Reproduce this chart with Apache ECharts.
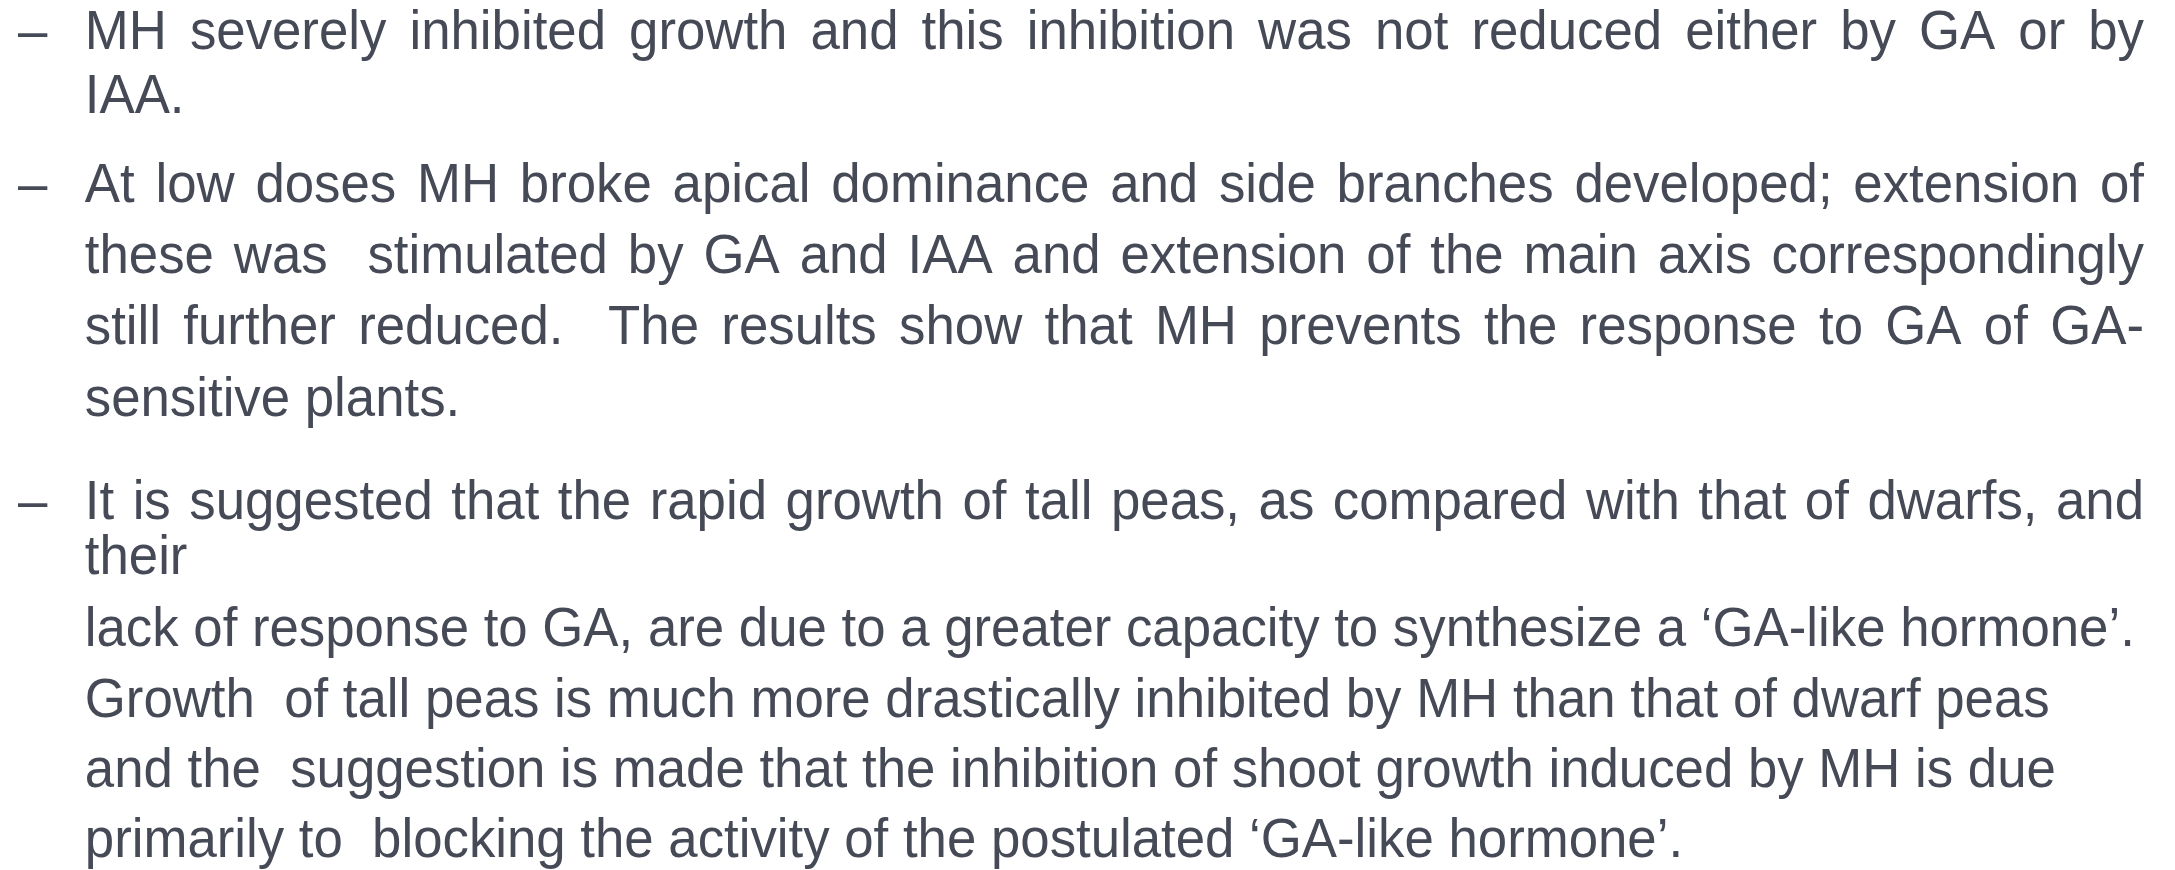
<!DOCTYPE html>
<html>
<head>
<meta charset="utf-8">
<script src="https://cdn.jsdelivr.net/npm/echarts@6/dist/echarts.min.js"></script>
<style>
html,body{margin:0;padding:0;background:#ffffff;}
#c{width:2175px;height:870px;}
</style>
</head>
<body>
<div id="c"></div>
<script>
// ---------- content ----------
const bulletMark = '–';
const bullet1Lines = [
  'MH severely inhibited growth and this inhibition was not reduced either by GA or by',
  'IAA.'
];
const bullet2Lines = [
  'At low doses MH broke apical dominance and side branches developed; extension of',
  'these was  stimulated by GA and IAA and extension of the main axis correspondingly',
  'still further reduced.  The results show that MH prevents the response to GA of GA-',
  'sensitive plants.'
];
const bullet3Lines = [
  'It is suggested that the rapid growth of tall peas, as compared with that of dwarfs, and',
  'their',
  'lack of response to GA, are due to a greater capacity to synthesize a ‘GA-like hormone’.',
  'Growth  of tall peas is much more drastically inhibited by MH than that of dwarf peas',
  'and the  suggestion is made that the inhibition of shoot growth induced by MH is due',
  'primarily to  blocking the activity of the postulated ‘GA-like hormone’.'
];

// ---------- layout ----------
const paragraphs = [bullet1Lines, bullet2Lines, bullet3Lines];
const justifiedCount = [1, 3, 1];          // first N lines of each paragraph are justified
const baselines = [48.5, 112.5, 201.5, 273, 343.5, 416, 518.5, 573.5, 646, 717, 787, 857];
const TEXT_X = 84.8, RIGHT_X = 2144, DASH_X = 18;
const FS = 56;
const FAMILY = '"Liberation Sans", Arial, Helvetica, sans-serif';
const COLOR = '#454a56';
const CALIB_WIDTH = 2050;                  // width of the 'lack of response...' line

const ctx = document.createElement('canvas').getContext('2d');
const FONT = FS + 'px ' + FAMILY;
ctx.font = FONT;
const measure = s => ctx.measureText(s).width;
const SX = CALIB_WIDTH / measure(bullet3Lines[2]);
// distance from the 'middle' text baseline down to the alphabetic baseline
ctx.textBaseline = 'middle';
const mMid = ctx.measureText('H');
ctx.textBaseline = 'alphabetic';
const mAlp = ctx.measureText('H');
let MID = mAlp.actualBoundingBoxAscent - mMid.actualBoundingBoxAscent;
if (!isFinite(MID) || MID <= 0) MID = 0.3465 * FS;

function textEl(str, x, baseline) {
  return {
    type: 'text', x: x, y: baseline - MID, scaleX: SX, scaleY: 1, silent: true,
    style: {
      text: str, x: 0, y: 0, font: FONT, fill: COLOR,
      textAlign: 'left', align: 'left',
      textVerticalAlign: 'middle', verticalAlign: 'middle'
    }
  };
}

const elements = [];
let li = 0;
paragraphs.forEach((lines, pi) => {
  elements.push(textEl(bulletMark, DASH_X, baselines[li]));
  lines.forEach((line, k) => {
    const b = baselines[li];
    if (k < justifiedCount[pi]) {
      const toks = line.split(' ');
      const widths = toks.map(t => measure(t) * SX);
      const total = widths.reduce((a, c) => a + c, 0);
      const gap = (RIGHT_X - TEXT_X - total) / (toks.length - 1);
      let x = TEXT_X;
      toks.forEach((t, i) => {
        if (t.length) elements.push(textEl(t, x, b));
        x += widths[i] + gap;
      });
    } else {
      elements.push(textEl(line, TEXT_X, b));
    }
    li++;
  });
});

const chart = echarts.init(document.getElementById('c'), null, {renderer: 'canvas'});
chart.setOption({
  backgroundColor: '#ffffff',
  animation: false,
  graphic: { elements: elements }
});
</script>
</body>
</html>
